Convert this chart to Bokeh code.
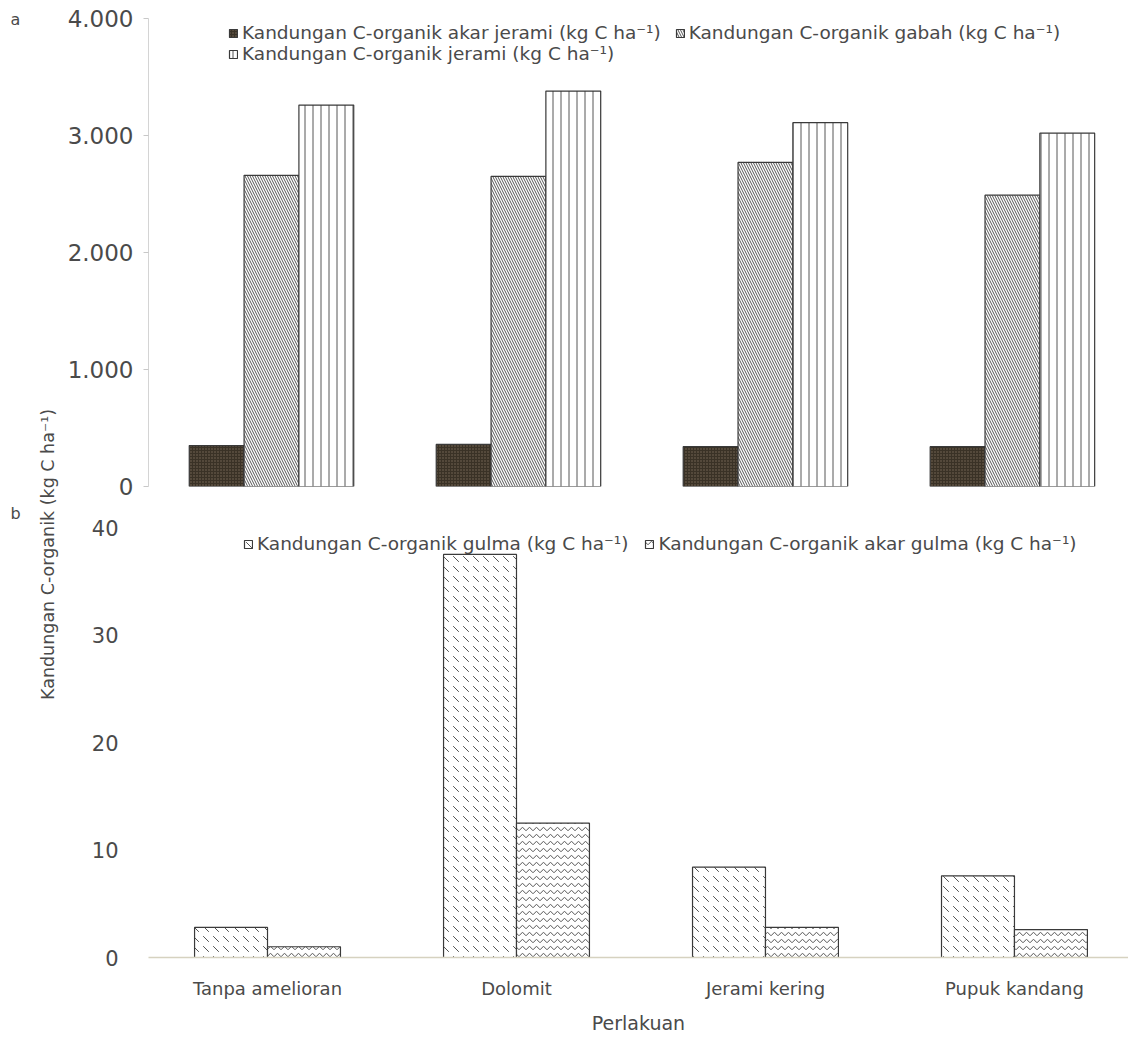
import math
from bokeh.plotting import figure
from bokeh.layouts import row, column
from bokeh.models import (ColumnDataSource, Range1d, FixedTicker, Legend, LegendItem, Label)
from bokeh.transform import dodge
from bokeh.embed import file_html
from bokeh.resources import INLINE

# ---------------- data ----------------
treatments = ["Tanpa amelioran", "Dolomit", "Jerami kering", "Pupuk kandang"]

akar_jerami = [350, 360, 340, 340]
gabah = [2660, 2650, 2770, 2490]
jerami = [3260, 3380, 3110, 3020]

gulma = [2.8, 37.5, 8.4, 7.6]
akar_gulma = [1.0, 12.5, 2.8, 2.6]

top_ticks = [0, 1000, 2000, 3000, 4000]
top_tick_labels = ["0", "1.000", "2.000", "3.000", "4.000"]
bot_ticks = [0, 10, 20, 30, 40]

lab_akar_jerami = "Kandungan C-organik akar jerami (kg C ha\u207b\u00b9)"
lab_gabah = "Kandungan C-organik gabah (kg C ha\u207b\u00b9)"
lab_jerami = "Kandungan C-organik jerami (kg C ha\u207b\u00b9)"
lab_gulma = "Kandungan C-organik gulma (kg C ha\u207b\u00b9)"
lab_akar_gulma = "Kandungan C-organik akar gulma (kg C ha\u207b\u00b9)"
y_title = "Kandungan C-organik (kg C ha\u207b\u00b9)"
x_title = "Perlakuan"

FONT = "DejaVu Sans"
TXT = "#4a4a4a"
LINE = "#3a3a3a"

idx = list(range(len(treatments)))

# ---------------- label strip ----------------
lf = figure(width=60, height=1039, x_range=Range1d(0, 60), y_range=Range1d(1039, 0),
            output_backend="svg", toolbar_location=None,
            min_border=0, min_border_left=0, min_border_right=0, min_border_top=0, min_border_bottom=0)
lf.axis.visible = False
lf.grid.visible = False
lf.outline_line_color = None
lf.add_layout(Label(x=10, y=9, text="a", text_font=FONT, text_font_size="16px",
                    text_color=TXT, text_align="left", text_baseline="top"))
lf.add_layout(Label(x=10, y=503, text="b", text_font=FONT, text_font_size="16px",
                    text_color=TXT, text_align="left", text_baseline="top"))
lf.add_layout(Label(x=47, y=554, text=y_title, text_font=FONT, text_font_size="17.5px",
                    text_color=TXT, text_align="center", text_baseline="middle", angle=math.pi / 2))

# ---------------- top panel ----------------
w1 = 0.222
src1 = ColumnDataSource(dict(x=idx, akar=akar_jerami, gabah=gabah, jerami=jerami))
p1 = figure(width=1068, height=503, x_range=Range1d(-0.498, 3.470), y_range=Range1d(0, 4000),
            output_backend="svg", toolbar_location=None,
            min_border_left=88, min_border_right=0, min_border_top=18, min_border_bottom=17)
p1.outline_line_color = None
p1.grid.visible = False
p1.xaxis.visible = False
p1.yaxis.ticker = FixedTicker(ticks=top_ticks)
p1.yaxis.major_label_overrides = {t: l for t, l in zip(top_ticks, top_tick_labels)}
p1.yaxis.axis_line_color = "#d4d4d4"
p1.yaxis.major_tick_line_color = "#c8c8c8"
p1.yaxis.major_tick_out = 5
p1.yaxis.major_tick_in = 0
p1.yaxis.minor_tick_line_color = None
p1.yaxis.major_label_text_font = FONT
p1.yaxis.major_label_text_font_size = "23px"
p1.yaxis.major_label_text_color = TXT
p1.yaxis.major_label_standoff = 10

r_akar = p1.vbar(x=dodge("x", -w1, range=p1.x_range), top="akar", width=w1, source=src1,
                 fill_color="#3a3226", line_color=LINE, line_width=1.2, hatch_pattern="dot",
                 hatch_color="#7a6a58", hatch_scale=3, hatch_weight=1)
r_gabah = p1.vbar(x="x", top="gabah", width=w1, source=src1, fill_color="white",
                  line_color=LINE, line_width=1.2, hatch_pattern="left_diagonal_line",
                  hatch_color="#555555", hatch_scale=5, hatch_weight=1)
r_jerami = p1.vbar(x=dodge("x", w1, range=p1.x_range), top="jerami", width=w1, source=src1,
                   fill_color="white", line_color=LINE, line_width=1.2,
                   hatch_pattern="vertical_line", hatch_color="#555555", hatch_scale=8, hatch_weight=1)

for items, loc in (([LegendItem(label=lab_akar_jerami, renderers=[r_akar]),
                     LegendItem(label=lab_gabah, renderers=[r_gabah])], (80, 443)),
                   ([LegendItem(label=lab_jerami, renderers=[r_jerami])], (80, 422))):
    lg = Legend(items=items, location=loc, orientation="horizontal",
                label_text_font=FONT, label_text_font_size="18.5px", label_text_color=TXT,
                glyph_width=10, glyph_height=10, label_standoff=4, spacing=14,
                padding=0, margin=0, border_line_color=None, background_fill_alpha=0,
                label_height=21)
    p1.add_layout(lg)

# ---------------- bottom panel ----------------
w2 = 0.293
src2 = ColumnDataSource(dict(x=idx, gulma=gulma, akar=akar_gulma))
p2 = figure(width=1068, height=536, x_range=Range1d(-0.478, 3.458), y_range=Range1d(0, 40),
            output_backend="svg", toolbar_location=None,
            min_border_left=88, min_border_right=0, min_border_top=24, min_border_bottom=82)
p2.outline_line_color = None
p2.grid.visible = False
p2.xaxis.ticker = FixedTicker(ticks=idx)
p2.xaxis.major_label_overrides = {i: t for i, t in zip(idx, treatments)}
p2.xaxis.axis_line_color = "#d6d2c0"
p2.xaxis.axis_line_width = 1.5
p2.xaxis.major_tick_line_color = None
p2.xaxis.minor_tick_line_color = None
p2.xaxis.major_label_text_font = FONT
p2.xaxis.major_label_text_font_size = "18px"
p2.xaxis.major_label_text_color = TXT
p2.xaxis.major_label_standoff = 14
p2.xaxis.axis_label = x_title
p2.xaxis.axis_label_text_font = FONT
p2.xaxis.axis_label_text_font_size = "19px"
p2.xaxis.axis_label_text_font_style = "normal"
p2.xaxis.axis_label_text_color = TXT
p2.xaxis.axis_label_standoff = 10

p2.yaxis.ticker = FixedTicker(ticks=bot_ticks)
p2.yaxis.axis_line_color = None
p2.yaxis.major_tick_line_color = None
p2.yaxis.minor_tick_line_color = None
p2.yaxis.major_label_text_font = FONT
p2.yaxis.major_label_text_font_size = "21px"
p2.yaxis.major_label_text_color = TXT
p2.yaxis.major_label_standoff = 24

r_gulma = p2.vbar(x=dodge("x", -w2 / 2, range=p2.x_range), top="gulma", width=w2, source=src2,
                  fill_color="white", line_color=LINE, line_width=1.2,
                  hatch_pattern="left_diagonal_dash", hatch_color="#555555", hatch_scale=10, hatch_weight=1)
r_agulma = p2.vbar(x=dodge("x", w2 / 2, range=p2.x_range), top="akar", width=w2, source=src2,
                   fill_color="white", line_color=LINE, line_width=1.2,
                   hatch_pattern="horizontal_wave", hatch_color="#555555", hatch_scale=7, hatch_weight=1)

lg2 = Legend(items=[LegendItem(label=lab_gulma, renderers=[r_gulma]),
                    LegendItem(label=lab_akar_gulma, renderers=[r_agulma])],
             location=(95, 403), orientation="horizontal",
             label_text_font=FONT, label_text_font_size="18.5px", label_text_color=TXT,
             glyph_width=10, glyph_height=10, label_standoff=4, spacing=16,
             padding=0, margin=0, border_line_color=None, background_fill_alpha=0, label_height=21)
p2.add_layout(lg2)

layout = row(lf, column(p1, p2, spacing=0), spacing=0)
open("out.html", "w").write(file_html(layout, INLINE))
